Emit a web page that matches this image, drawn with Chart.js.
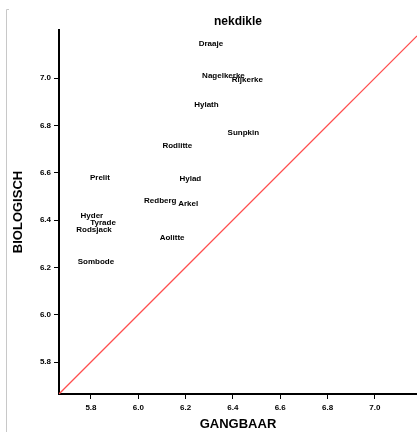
<!DOCTYPE html>
<html>
<head>
<meta charset="utf-8">
<script src="https://cdn.jsdelivr.net/npm/chart.js@4/dist/chart.umd.min.js"></script>
<style>
html,body{margin:0;padding:0;background:#fff;}
#wrap{width:417px;height:432px;position:relative;}
</style>
</head>
<body>
<div id="wrap"><canvas id="c" width="417" height="432"></canvas></div>
<script>
// ---- data ----
const names = ["Draaje","Nagelkerke","Rijkerke","Hylath","Sunpkin","Rodlitte","Prelit","Hylad","Redberg","Arkel","Hyder","Tyrade","Rodsjack","Aolitte","Sombode"];
const gangbaar = [6.307,6.360,6.461,6.288,6.444,6.165,5.838,6.220,6.093,6.211,5.804,5.851,5.813,6.143,5.821];
const biologisch = [7.146,7.008,6.992,6.886,6.768,6.713,6.577,6.575,6.480,6.468,6.417,6.389,6.358,6.324,6.222];
const xTicks = [5.8,6.0,6.2,6.4,6.6,6.8,7.0];
const yTicks = [5.8,6.0,6.2,6.4,6.6,6.8,7.0];
const diagLine = [5.665,7.178];
const chartTitle = "nekdikle";
const xTitle = "GANGBAAR";
const yTitle = "BIOLOGISCH";

const FONT = "'Liberation Sans', Arial, sans-serif";

const labelPlugin = {
  id: 'pointLabels',
  afterDatasetsDraw(chart) {
    const meta = chart.getDatasetMeta(0);
    const ctx = chart.ctx;
    ctx.save();
    ctx.font = "bold 8px " + FONT;
    ctx.fillStyle = "#000";
    ctx.textAlign = "center";
    ctx.textBaseline = "middle";
    meta.data.forEach((el, i) => {
      ctx.fillText(names[i], el.x, el.y);
    });
    ctx.restore();
  }
};

const framePlugin = {
  id: 'frame',
  beforeDraw(chart) {
    const ctx = chart.ctx;
    ctx.save();
    ctx.strokeStyle = "#c8c8c8";
    ctx.lineWidth = 1;
    ctx.beginPath();
    ctx.moveTo(9, 9.5);
    ctx.lineTo(6.5, 9.5);
    ctx.lineTo(6.5, 432);
    ctx.stroke();
    ctx.restore();
  }
};

new Chart(document.getElementById('c'), {
  type: 'scatter',
  data: {
    datasets: [
      {
        data: gangbaar.map((x, i) => ({x: x, y: biologisch[i]})),
        pointRadius: 0,
        pointHoverRadius: 0,
        showLine: false
      },
      {
        type: 'line',
        data: diagLine.map(v => ({x: v, y: v})),
        borderColor: '#ff4d4d',
        borderWidth: 1.3,
        pointRadius: 0,
        fill: false
      }
    ]
  },
  options: {
    responsive: false,
    animation: false,
    events: [],
    layout: {padding: 0},
    plugins: {
      legend: {display: false},
      tooltip: {enabled: false},
      title: {
        display: true,
        text: chartTitle,
        fullSize: false,
        color: '#000',
        font: {family: FONT, size: 12, weight: 'bold'},
        padding: {top: 14.8, bottom: 0.8}
      }
    },
    scales: {
      x: {
        type: 'linear',
        min: 5.665,
        max: 7.178,
        afterBuildTicks(scale) { scale.ticks = xTicks.map(v => ({value: v})); },
        afterFit(scale) { scale.height = 38; },
        grid: {display: true, drawOnChartArea: false, drawTicks: true, tickLength: 5, color: '#000', lineWidth: 1},
        border: {display: true, color: '#000', width: 2},
        ticks: {
          color: '#000',
          font: {family: FONT, size: 8, weight: 'bold'},
          padding: 4,
          maxRotation: 0,
          callback: v => Number(v).toFixed(1)
        },
        title: {
          display: true,
          text: xTitle,
          color: '#000',
          font: {family: FONT, size: 13, weight: 'bold'},
          padding: {top: 0, bottom: 0}
        }
      },
      y: {
        type: 'linear',
        min: 5.665,
        max: 7.203,
        afterBuildTicks(scale) { scale.ticks = yTicks.map(v => ({value: v})); },
        afterFit(scale) { scale.width = 59; },
        grid: {display: true, drawOnChartArea: false, drawTicks: true, tickLength: 5, color: '#000', lineWidth: 1},
        border: {display: true, color: '#000', width: 2},
        ticks: {
          color: '#000',
          font: {family: FONT, size: 8, weight: 'bold'},
          padding: 3,
          callback: v => Number(v).toFixed(1)
        },
        title: {
          display: true,
          text: yTitle,
          color: '#000',
          font: {family: FONT, size: 13, weight: 'bold'},
          padding: {top: 10.5, bottom: 0}
        }
      }
    }
  },
  plugins: [labelPlugin, framePlugin]
});
</script>
</body>
</html>
